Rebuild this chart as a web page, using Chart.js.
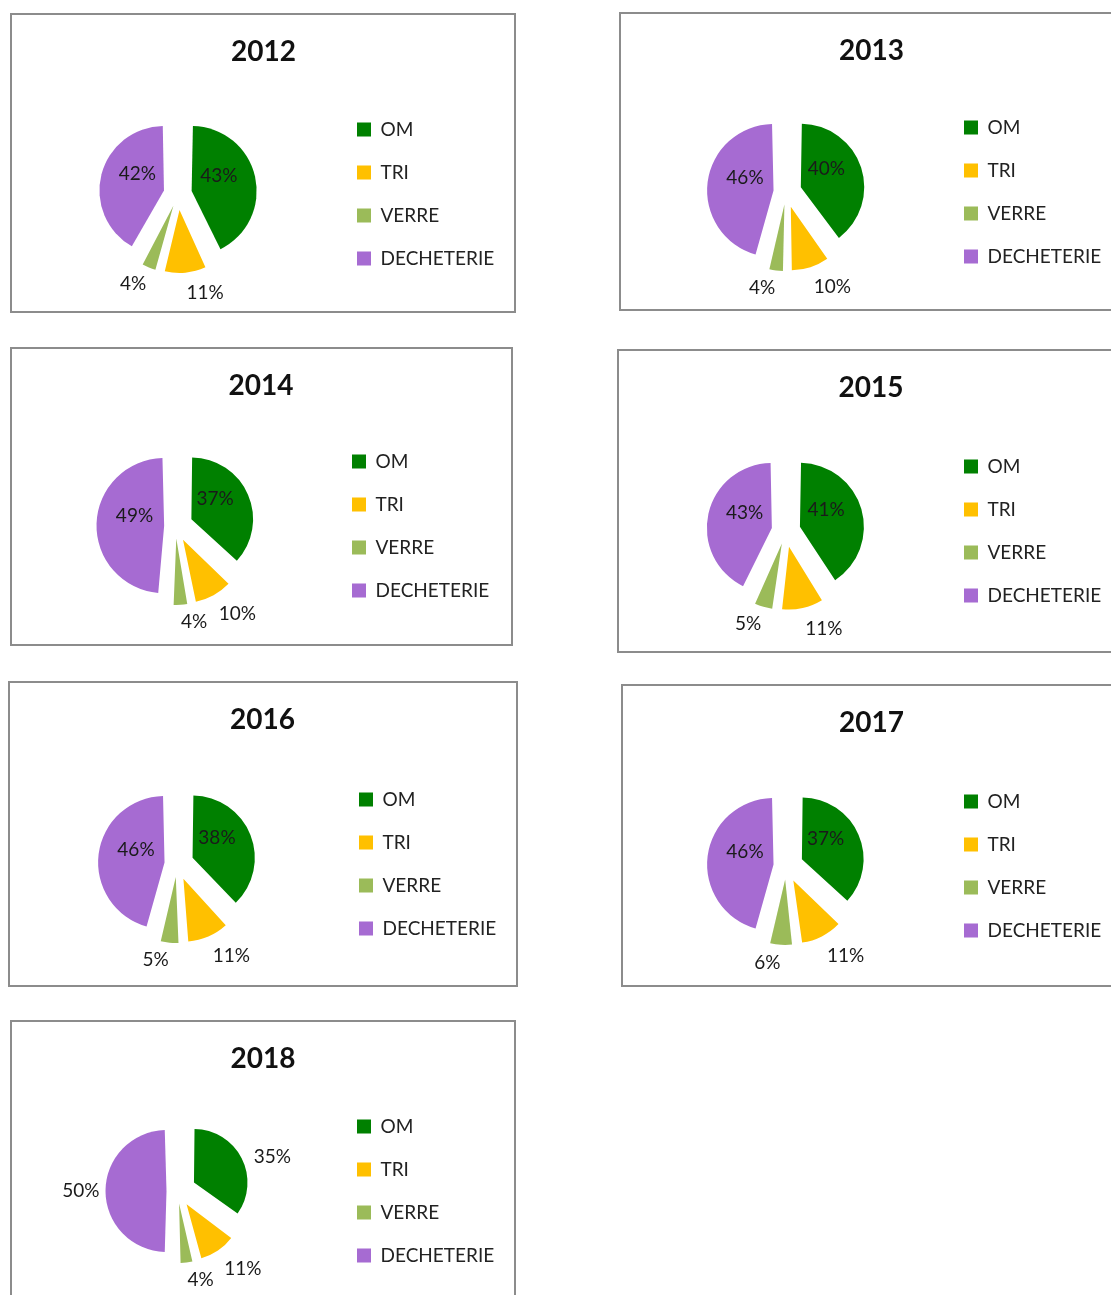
<!DOCTYPE html>
<html>
<head>
<meta charset="utf-8">
<script src="https://cdn.jsdelivr.net/npm/chart.js@4.4.1/dist/chart.umd.min.js"></script>
<style>
body { margin: 0; background: #fff; width: 1111px; height: 1295px; overflow: hidden; position: relative; }
.cadre { position: absolute; border: 2px solid #8c8c8c; box-sizing: border-box; background: #fff; }
.cadre canvas { position: absolute; left: 0; top: 0; }
</style>
</head>
<body>
<script>
var annees = ['2012', '2013', '2014', '2015', '2016', '2017', '2018'];
var categories = ['OM', 'TRI', 'VERRE', 'DECHETERIE'];
var om = [43, 40, 37, 41, 38, 37, 35];
var tri = [11, 10, 10, 11, 11, 11, 11];
var verre = [4, 4, 4, 5, 5, 6, 4];
var decheterie = [42, 46, 49, 43, 46, 46, 50];
var couleurs = ['#008000', '#FFC000', '#9BBB59', '#A66BD2'];

// cadre : gauche, haut, largeur, hauteur, centre x, centre y du camembert, x legende, rayon
var cadres = [
    [10, 13, 506, 300, 166, 179, 345, 57],
    [619, 12, 506, 299, 165, 178, 343, 57],
    [10, 347, 503, 299, 163.5, 177, 340, 57],
    [617, 349, 506, 304, 166.5, 180, 345, 57],
    [8, 681, 510, 306, 167, 181, 349, 57],
    [621, 684, 506, 303, 163, 180, 341, 57],
    [10, 1020, 506, 300, 165.5, 169, 345, 50]
];
var etiquettesDehors = [false, false, false, false, false, false, true];

var policeLegende = { family: 'Lato', size: 19 };
var ecart = 22; // deplacement + grossissement des parts (facon Excel)

function mesurer(texte, font) {
    var c = document.createElement('canvas').getContext('2d');
    c.font = font.size + 'px ' + font.family;
    return c.measureText(texte).width;
}

// Chart.js grossit les parts detachees : on ajuste l'offset pour garder le meme bord
function offsetPart(ctx) {
    var d = ctx.dataset.data;
    var total = d.reduce(function(a, b) { return a + b; }, 0);
    var circ = d[ctx.dataIndex] / total * 2 * Math.PI;
    var fix = 1 - Math.sin(Math.min(Math.PI, circ));
    return 4 * ecart / (1 + fix);
}

function pourcentages(dehors) {
    return {
        id: 'pourcentages',
        afterDatasetsDraw: function(chart) {
            var ctx = chart.ctx;
            var meta = chart.getDatasetMeta(0);
            var ds = chart.data.datasets[0];
            ctx.save();
            ctx.font = '19px Lato';
            ctx.fillStyle = '#1a1a1a';
            meta.data.forEach(function(arc, i) {
                var p = arc.getProps(['x', 'y', 'startAngle', 'endAngle', 'outerRadius'], true);
                var mid = (p.startAngle + p.endAngle) / 2;
                var t = (arc.options.offset || 0) / 4;
                var cx = p.x + Math.cos(mid) * t;
                var cy = p.y + Math.sin(mid) * t;
                var texte = ds.data[i] + '%';
                var r;
                if (!dehors && ds.data[i] >= 20) {
                    var a = Math.cos(mid) > 0 ? mid - 0.3 : mid + 0.3;
                    r = p.outerRadius * 0.55;
                    ctx.textAlign = 'center';
                    ctx.textBaseline = 'middle';
                    ctx.fillText(texte, cx + Math.cos(a) * r, cy + Math.sin(a) * r);
                } else {
                    r = p.outerRadius + 17;
                    var c = Math.cos(mid), s = Math.sin(mid);
                    ctx.textAlign = c >= 0 ? 'left' : 'right';
                    ctx.textBaseline = s > 0.6 ? 'top' : (s < -0.6 ? 'bottom' : 'middle');
                    ctx.fillText(texte, cx + c * r, cy + s * r + (s < 0 && s > -0.6 ? 5 : 0));
                }
            });
            ctx.restore();
        }
    };
}

var largeurLegende = 24 + 14 + policeLegende.size / 2 + mesurer('DECHETERIE', policeLegende) + 10;

for (var i = 0; i < annees.length; i++) {
    var g = cadres[i];
    var div = document.createElement('div');
    div.className = 'cadre';
    div.style.left = g[0] + 'px';
    div.style.top = g[1] + 'px';
    div.style.width = g[2] + 'px';
    div.style.height = g[3] + 'px';
    document.body.appendChild(div);

    var w = g[2] - 4, h = g[3] - 4;
    var canvas = document.createElement('canvas');
    canvas.width = w;
    canvas.height = h;
    div.appendChild(canvas);

    var droiteZone = g[6] - 24;
    var gauche = 2 * g[4] - droiteZone;
    var droite = w - droiteZone - largeurLegende;
    var demi = 110;
    var bas = h - (g[5] + demi);
    var titreBas = (g[5] - demi) - 20 - 28 * 1.2;

    new Chart(canvas, {
        type: 'pie',
        data: {
            labels: categories,
            datasets: [{
                data: [om[i], tri[i], verre[i], decheterie[i]],
                backgroundColor: couleurs,
                borderWidth: 0,
                offset: offsetPart,
                hoverOffset: 0
            }]
        },
        options: {
            responsive: false,
            animation: false,
            events: [],
            radius: g[7],
            layout: { padding: { left: gauche, right: droite, top: 0, bottom: bas } },
            plugins: {
                title: {
                    display: true,
                    text: annees[i],
                    color: '#111',
                    font: { family: 'Lato', size: 28, weight: 'bold' },
                    padding: { top: 20, bottom: titreBas }
                },
                legend: {
                    position: 'right',
                    fullSize: false,
                    labels: {
                        boxWidth: 14,
                        boxHeight: 14,
                        padding: 24,
                        color: '#222',
                        font: policeLegende
                    }
                },
                tooltip: { enabled: false }
            }
        },
        plugins: [pourcentages(etiquettesDehors[i])]
    });
}
</script>
</body>
</html>
